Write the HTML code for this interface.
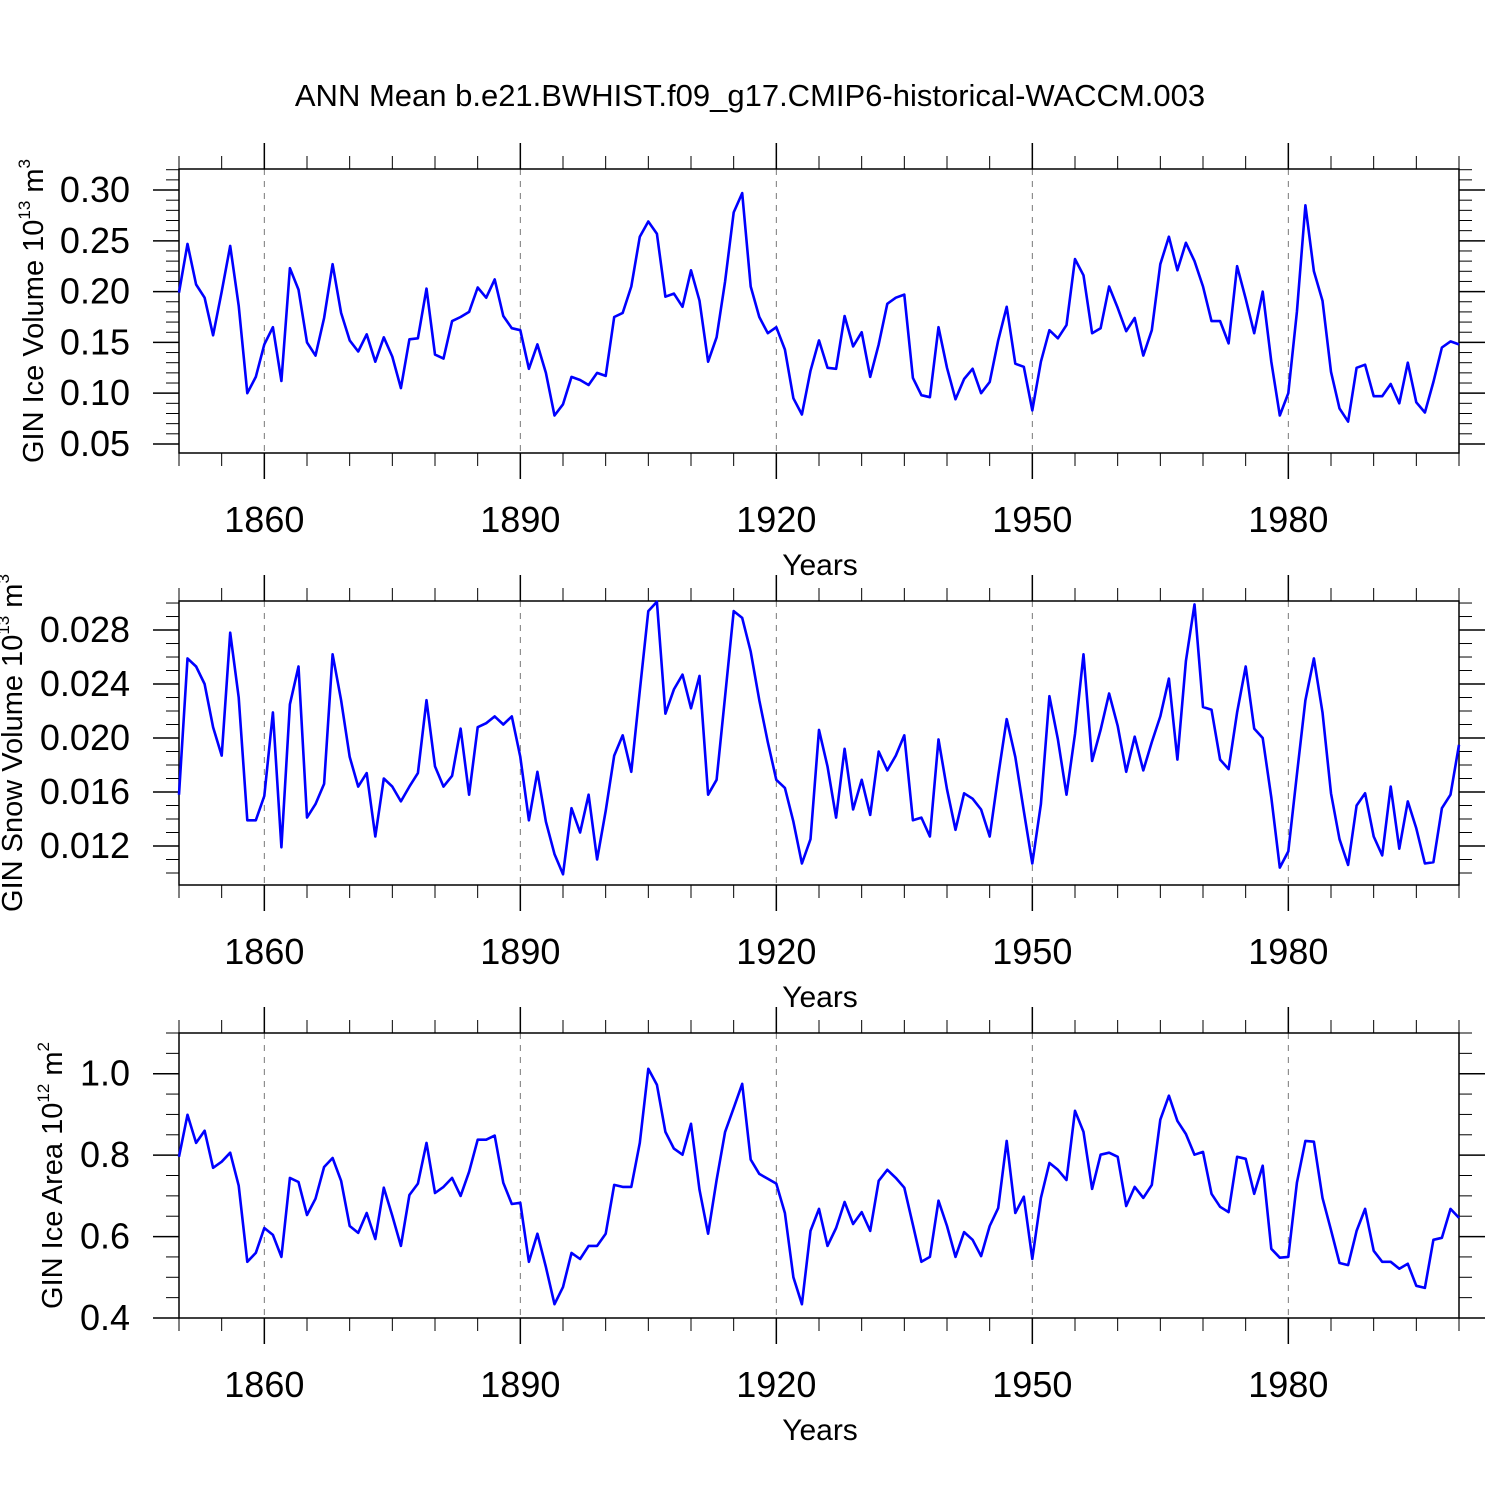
<!DOCTYPE html>
<html><head><meta charset="utf-8"><style>
body{margin:0;background:#fff}
svg{display:block;font-family:"Liberation Sans",Arial,sans-serif}
</style></head><body>
<svg id="chart" width="1500" height="1500" viewBox="0 0 1500 1500">
<text x="750" y="106" text-anchor="middle" font-size="31">ANN Mean b.e21.BWHIST.f09_g17.CMIP6-historical-WACCM.003</text>
</svg>
<script>
const years = Array.from({length:151},(_,i)=>1850+i);
const xTicks = [1860,1890,1920,1950,1980];
const iceVolume = [0.199,0.247,0.207,0.194,0.157,0.20,0.245,0.186,0.10,0.116,0.148,0.165,0.112,0.223,0.202,0.15,0.137,0.174,0.227,0.179,0.152,0.141,0.158,0.131,0.155,0.136,0.105,0.153,0.154,0.203,0.138,0.134,0.171,0.175,0.18,0.204,0.194,0.212,0.176,0.164,0.162,0.124,0.148,0.12,0.078,0.089,0.116,0.113,0.108,0.12,0.117,0.175,0.179,0.205,0.254,0.269,0.257,0.195,0.198,0.185,0.221,0.191,0.131,0.155,0.21,0.278,0.297,0.205,0.175,0.159,0.165,0.143,0.095,0.079,0.122,0.152,0.125,0.124,0.176,0.146,0.16,0.116,0.148,0.188,0.194,0.197,0.115,0.098,0.096,0.165,0.125,0.094,0.114,0.124,0.1,0.111,0.152,0.185,0.129,0.126,0.083,0.131,0.162,0.154,0.167,0.232,0.216,0.159,0.164,0.205,0.184,0.161,0.174,0.137,0.162,0.227,0.254,0.221,0.248,0.23,0.205,0.171,0.171,0.149,0.225,0.193,0.159,0.2,0.131,0.078,0.1,0.18,0.285,0.22,0.191,0.121,0.085,0.072,0.125,0.128,0.097,0.097,0.109,0.09,0.13,0.091,0.081,0.111,0.145,0.151,0.148];
const snowVolume = [0.0158,0.0259,0.0253,0.024,0.0208,0.0187,0.0278,0.023,0.0139,0.0139,0.0157,0.0219,0.0119,0.0225,0.0253,0.0141,0.0151,0.0166,0.0262,0.0228,0.0186,0.0164,0.0174,0.0127,0.017,0.0164,0.0153,0.0164,0.0174,0.0228,0.0179,0.0164,0.0172,0.0207,0.0158,0.0208,0.0211,0.0216,0.021,0.0216,0.0186,0.0139,0.0175,0.0138,0.0114,0.0099,0.0148,0.013,0.0158,0.011,0.0146,0.0187,0.0202,0.0175,0.0235,0.0294,0.0301,0.0218,0.0236,0.0247,0.0222,0.0246,0.0158,0.0169,0.0231,0.0294,0.0289,0.0264,0.0228,0.0197,0.0169,0.0163,0.0138,0.0107,0.0125,0.0206,0.0179,0.0141,0.0192,0.0147,0.0169,0.0143,0.019,0.0176,0.0187,0.0202,0.0139,0.0141,0.0127,0.0199,0.0162,0.0132,0.0159,0.0155,0.0147,0.0127,0.0172,0.0214,0.0186,0.0146,0.0107,0.0151,0.0231,0.0199,0.0158,0.0203,0.0262,0.0183,0.0206,0.0233,0.0209,0.0175,0.0201,0.0176,0.0197,0.0216,0.0244,0.0184,0.0257,0.0299,0.0223,0.0221,0.0184,0.0177,0.0219,0.0253,0.0207,0.02,0.0156,0.0104,0.0116,0.0173,0.0228,0.0259,0.0219,0.0159,0.0125,0.0106,0.015,0.0159,0.0127,0.0113,0.0164,0.0118,0.0153,0.0133,0.0107,0.0108,0.0148,0.0158,0.0195];
const iceArea = [0.796,0.899,0.83,0.86,0.769,0.784,0.806,0.725,0.538,0.56,0.621,0.604,0.55,0.744,0.734,0.653,0.693,0.771,0.793,0.737,0.626,0.609,0.658,0.594,0.72,0.651,0.577,0.702,0.73,0.83,0.707,0.722,0.744,0.7,0.759,0.838,0.838,0.848,0.732,0.68,0.683,0.538,0.607,0.525,0.434,0.476,0.56,0.545,0.577,0.577,0.607,0.727,0.722,0.722,0.83,1.012,0.973,0.857,0.816,0.801,0.877,0.715,0.607,0.739,0.857,0.916,0.975,0.789,0.754,0.742,0.73,0.658,0.5,0.434,0.614,0.668,0.577,0.621,0.685,0.631,0.66,0.614,0.737,0.764,0.744,0.72,0.629,0.538,0.55,0.688,0.626,0.55,0.611,0.592,0.552,0.626,0.67,0.835,0.658,0.698,0.545,0.695,0.781,0.764,0.739,0.909,0.857,0.717,0.801,0.806,0.796,0.675,0.722,0.695,0.727,0.887,0.946,0.884,0.852,0.801,0.808,0.705,0.673,0.66,0.796,0.791,0.705,0.774,0.57,0.548,0.55,0.732,0.835,0.833,0.695,0.616,0.535,0.53,0.614,0.668,0.565,0.538,0.538,0.521,0.533,0.479,0.474,0.592,0.597,0.668,0.646];
const volTicks = ["0.05","0.10","0.15","0.20","0.25","0.30"];
const snowTicks = ["0.012","0.016","0.020","0.024","0.028"];
const areaTicks = ["0.4","0.6","0.8","1.0"];

const NS="http://www.w3.org/2000/svg";
const svg=document.getElementById('chart');
function mk(tag,attrs,parent){const e=document.createElementNS(NS,tag);for(const k in attrs)e.setAttribute(k,attrs[k]);(parent||svg).appendChild(e);return e;}
const X0=179,X1=1459,YR0=1850,YR1=2000;
const xs=y=>X0+(y-YR0)/(YR1-YR0)*(X1-X0);

const panels=[
 {name:'ice-volume',top:169,bot:453,vmin:0.0411,vmax:0.3207,data:iceVolume,ticks:volTicks,minor:0.01,tx:43,
  title:['GIN Ice Volume 10','13',' m','3']},
 {name:'snow-volume',top:601,bot:885,vmin:0.00911,vmax:0.03015,data:snowVolume,ticks:snowTicks,minor:0.001,tx:22,
  title:['GIN Snow Volume 10','13',' m','3']},
 {name:'ice-area',top:1033,bot:1318,vmin:0.4,vmax:1.1,data:iceArea,ticks:areaTicks,minor:0.05,tx:62,
  title:['GIN Ice Area 10','12',' m','2']}
];
panels.forEach(p=>{
 const g=mk('g',{});
 
 
 const ys=v=>p.bot-(v-p.vmin)/(p.vmax-p.vmin)*(p.bot-p.top);
 xTicks.forEach(t=>{const l=mk('line',{x1:xs(t),x2:xs(t),y1:p.top,y2:p.bot,stroke:'#777','stroke-width':1,'stroke-dasharray':'6,6'},g);
  });
 for(let y=YR0;y<=YR1;y+=5){const major=xTicks.includes(y);const L=major?26:13;
  mk('line',{x1:xs(y),x2:xs(y),y1:p.top-L,y2:p.top,stroke:'#000','stroke-width':major?1.5:1},g);
  mk('line',{x1:xs(y),x2:xs(y),y1:p.bot,y2:p.bot+L,stroke:'#000','stroke-width':major?1.5:1},g);}
 const start=Math.ceil(p.vmin/p.minor-1e-6);
 for(let k=start;k*p.minor<=p.vmax+1e-9;k++){const v=k*p.minor;const yy=ys(v);
  const major=p.ticks.some(t=>Math.abs(parseFloat(t)-v)<p.minor/10);const L=major?26:13;
  mk('line',{x1:X0-L,x2:X0,y1:yy,y2:yy,stroke:'#000','stroke-width':major?1.5:1},g);
  mk('line',{x1:X1,x2:X1+L,y1:yy,y2:yy,stroke:'#000','stroke-width':major?1.5:1},g);}
 p.ticks.forEach(t=>{const tx=mk('text',{x:X0-49,y:ys(parseFloat(t))+12,'text-anchor':'end','font-size':36},g);tx.textContent=t;
  });
 xTicks.forEach(t=>{const tx=mk('text',{x:xs(t),y:p.bot+79,'text-anchor':'middle','font-size':36},g);tx.textContent=t;
  });
 const xt=mk('text',{x:820,y:p.bot+122,'text-anchor':'middle','font-size':30},g);xt.textContent='Years';
 
 const cy=(p.top+p.bot)/2;
 const yt=mk('text',{transform:`translate(${p.tx},${cy}) rotate(-90)`,'text-anchor':'middle','font-size':29},g);
 
 const s1=mk('tspan',{},yt);s1.textContent=p.title[0];
 const s2=mk('tspan',{'font-size':17,dy:-13},yt);s2.textContent=p.title[1];
 const s3=mk('tspan',{dy:13},yt);s3.textContent=p.title[2];
 const s4=mk('tspan',{'font-size':17,dy:-13},yt);s4.textContent=p.title[3];
 const fr=mk('rect',{x:X0,y:p.top,width:X1-X0,height:p.bot-p.top,fill:'none',stroke:'#000','stroke-width':1.5},g);
 
 const pts=p.data.map((v,i)=>xs(years[i]).toFixed(1)+','+ys(v).toFixed(1)).join(' ');
 const pl=mk('polyline',{points:pts,fill:'none',stroke:'#0000ff','stroke-width':2.6,'stroke-linejoin':'round'},g);
 
});
</script>
</body></html>
